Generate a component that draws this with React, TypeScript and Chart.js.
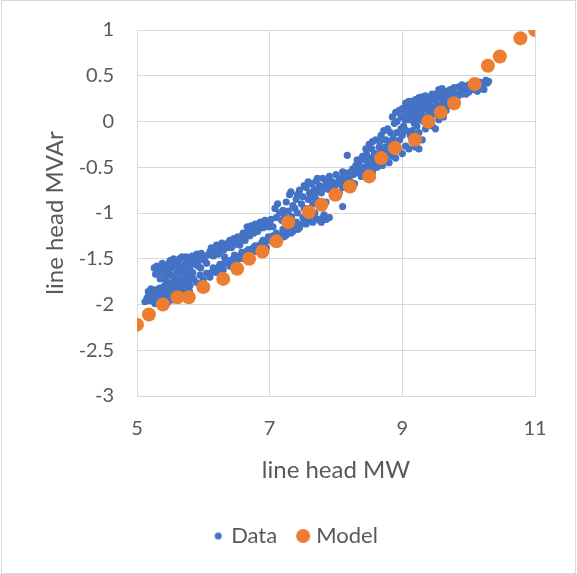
import { useEffect, useRef } from "react";
import { Chart, registerables } from "chart.js";

Chart.register(...registerables);

const BLUE = "#4472C4";
const ORANGE = "#ED7D31";
const TEXT = "#595959";
const GRID = "#D9D9D9";

const seriesNames = ["Data", "Model"];
const xTitle = "line head MW";
const yTitle = "line head MVAr";

const modelMW = [5, 5.18, 5.39, 5.61, 5.78, 6.0, 6.3, 6.51, 6.69, 6.89, 7.1, 7.28, 7.59, 7.78, 7.99, 8.21, 8.5, 8.68, 8.89, 9.19, 9.39, 9.58, 9.78, 10.09, 10.29, 10.47, 10.78, 11.0];
const modelMVAr = [-2.22, -2.11, -2.0, -1.92, -1.92, -1.81, -1.72, -1.61, -1.5, -1.42, -1.31, -1.1, -0.99, -0.91, -0.8, -0.71, -0.6, -0.4, -0.29, -0.2, 0.0, 0.1, 0.2, 0.41, 0.61, 0.71, 0.91, 1.0];

// Measured data: [MW, MVAr]
const dataPoints: [number, number][] = [
  [5.12, -1.97], [5.15, -1.93], [5.18, -1.9], [5.2, -1.96], [5.22, -1.88], [5.25, -1.92], [5.27, -1.99], [5.3, -1.87], [5.32, -1.94], [5.35, -1.9], [5.38, -1.97], [5.4, -1.86], [5.43, -1.92], [5.46, -1.98], [5.48, -1.84], [5.5, -1.9], [5.53, -1.95], [5.55, -1.83], [5.58, -1.88], [5.6, -1.8], [5.63, -1.86], [5.66, -1.78], [5.68, -1.84], [5.7, -1.76], [5.74, -1.82], [5.78, -1.74], [5.8, -1.79],
  [5.17, -1.86], [5.21, -1.83], [5.24, -1.95], [5.28, -1.84], [5.31, -1.91], [5.34, -1.82], [5.37, -1.88], [5.41, -1.8], [5.44, -1.95], [5.47, -1.78], [5.51, -1.86], [5.54, -1.76], [5.57, -1.93], [5.61, -1.74], [5.64, -1.9], [5.67, -1.72], [5.71, -1.87], [5.76, -1.68], [5.79, -1.85], [5.82, -1.7],
  [5.26, -1.6], [5.3, -1.58], [5.33, -1.65], [5.36, -1.6], [5.4, -1.57], [5.42, -1.7], [5.45, -1.62], [5.48, -1.55], [5.5, -1.67], [5.52, -1.6], [5.55, -1.5], [5.58, -1.72], [5.6, -1.58], [5.62, -1.53], [5.65, -1.65], [5.68, -1.48], [5.7, -1.6], [5.73, -1.55], [5.75, -1.7], [5.78, -1.5], [5.8, -1.62], [5.83, -1.47], [5.86, -1.56], [5.9, -1.45], [5.93, -1.52], [5.96, -1.6], [6.0, -1.48], [6.05, -1.55], [6.1, -1.42],
  [5.28, -1.67], [5.31, -1.62], [5.35, -1.72], [5.38, -1.55], [5.41, -1.64], [5.44, -1.74], [5.47, -1.58], [5.5, -1.52], [5.53, -1.69], [5.57, -1.55], [5.6, -1.65], [5.64, -1.5], [5.67, -1.58], [5.71, -1.66], [5.74, -1.48], [5.77, -1.58], [5.81, -1.52], [5.84, -1.65], [5.88, -1.5], [5.92, -1.58], [5.97, -1.44], [6.02, -1.52], [6.07, -1.46],
  [6.12, -1.38], [6.15, -1.47], [6.2, -1.35], [6.25, -1.42], [6.28, -1.33], [6.32, -1.48], [6.35, -1.38], [6.4, -1.3], [6.44, -1.36], [6.48, -1.32], [6.52, -1.26], [6.55, -1.35], [6.6, -1.22], [6.63, -1.3], [6.66, -1.15], [6.7, -1.25], [6.74, -1.18], [6.78, -1.12], [6.82, -1.2], [6.86, -1.1], [6.9, -1.16], [6.95, -1.12], [7.0, -1.1], [7.05, -1.15],
  [6.14, -1.42], [6.18, -1.4], [6.22, -1.45], [6.27, -1.37], [6.31, -1.4], [6.37, -1.33], [6.42, -1.38], [6.46, -1.28], [6.5, -1.34], [6.57, -1.28], [6.62, -1.26], [6.68, -1.2], [6.72, -1.14], [6.76, -1.22], [6.8, -1.15], [6.88, -1.13], [6.93, -1.08], [6.98, -1.15], [7.02, -1.07],
  [5.85, -1.72], [5.9, -1.76], [5.95, -1.68], [6.0, -1.73], [6.05, -1.66], [6.1, -1.7], [6.15, -1.6], [6.2, -1.65], [6.25, -1.56], [6.3, -1.62], [6.35, -1.55], [6.4, -1.58], [6.45, -1.5], [6.5, -1.54], [6.55, -1.47], [6.6, -1.5], [6.65, -1.42], [6.7, -1.46], [6.75, -1.38], [6.8, -1.42], [6.85, -1.35], [6.9, -1.3], [6.95, -1.38], [7.0, -1.3],
  [6.12, -1.65], [6.17, -1.62], [6.22, -1.6], [6.28, -1.58], [6.33, -1.52], [6.38, -1.52], [6.43, -1.55], [6.47, -1.46], [6.53, -1.5], [6.58, -1.43], [6.63, -1.46], [6.68, -1.4], [6.73, -1.42], [6.78, -1.36], [6.83, -1.38], [6.88, -1.33], [6.93, -1.32], [6.98, -1.26], [7.03, -1.28],
  [7.08, -0.95], [7.12, -0.9], [7.15, -1.0], [7.2, -0.97], [7.25, -0.88], [7.3, -0.8], [7.32, -0.77], [7.35, -0.92], [7.4, -0.85], [7.45, -0.75], [7.5, -0.82], [7.55, -0.72], [7.6, -0.78], [7.63, -0.68], [7.67, -0.74], [7.7, -0.65], [7.75, -0.7], [7.8, -0.62], [7.85, -0.67], [7.9, -0.6], [7.95, -0.66], [8.0, -0.58], [8.05, -0.62], [8.1, -0.55],
  [7.1, -1.05], [7.18, -1.08], [7.22, -1.02], [7.28, -0.98], [7.33, -1.04], [7.38, -0.95], [7.42, -1.0], [7.48, -0.9], [7.52, -0.95], [7.58, -0.85], [7.62, -0.82], [7.68, -0.8], [7.72, -0.76], [7.78, -0.78], [7.82, -0.72], [7.88, -0.74], [7.92, -0.7], [7.98, -0.72], [8.02, -0.68], [8.08, -0.66], [7.42, -0.8], [7.52, -0.7], [7.58, -0.66], [7.72, -0.62], [7.88, -0.64],
  [7.05, -1.25], [7.1, -1.22], [7.15, -1.28], [7.2, -1.18], [7.25, -1.24], [7.3, -1.15], [7.35, -1.2], [7.4, -1.1], [7.45, -1.16], [7.5, -1.05], [7.55, -1.12], [7.6, -1.08], [7.65, -1.1], [7.7, -1.06], [7.75, -1.08], [7.8, -1.05], [7.85, -1.07], [7.9, -1.05], [7.6, -0.95], [7.65, -0.9], [7.7, -0.85], [7.75, -0.92], [7.85, -0.88], [7.95, -0.82], [8.1, -0.93],
  [7.12, -1.3], [7.18, -1.24], [7.22, -1.26], [7.28, -1.2], [7.32, -1.22], [7.38, -1.15], [7.42, -1.18], [7.48, -1.12], [7.52, -1.1], [7.58, -1.04], [7.68, -1.0], [7.78, -1.1], [7.82, -1.02],
  [8.05, -0.78], [8.1, -0.72], [8.15, -0.65], [8.17, -0.37], [8.2, -0.6], [8.25, -0.52], [8.28, -0.68], [8.3, -0.48], [8.33, -0.56], [8.35, -0.44], [8.38, -0.6], [8.4, -0.38], [8.42, -0.5], [8.45, -0.3], [8.48, -0.45], [8.5, -0.25], [8.52, -0.4], [8.55, -0.22], [8.58, -0.35], [8.6, -0.2], [8.62, -0.5], [8.65, -0.28], [8.68, -0.15], [8.7, -0.3], [8.72, -0.1], [8.75, -0.2], [8.78, -0.08], [8.8, -0.35], [8.82, -0.12],
  [8.12, -0.6], [8.18, -0.56], [8.22, -0.66], [8.26, -0.58], [8.3, -0.55], [8.32, -0.42], [8.36, -0.5], [8.4, -0.55], [8.44, -0.42], [8.46, -0.36], [8.5, -0.5], [8.54, -0.3], [8.56, -0.45], [8.6, -0.4], [8.64, -0.35], [8.66, -0.22], [8.7, -0.38], [8.74, -0.28], [8.76, -0.35], [8.8, -0.22], [8.84, -0.3], [8.86, -0.18], [8.9, -0.25], [8.92, -0.12], [8.96, -0.2], [8.98, -0.08],
  [8.55, -0.55], [8.6, -0.5], [8.65, -0.46], [8.7, -0.48], [8.75, -0.42], [8.8, -0.45], [8.85, -0.38], [8.9, -0.4], [8.95, -0.32], [9.0, -0.35], [9.05, -0.27], [9.1, -0.3], [9.15, -0.22], [9.2, -0.28], [9.25, -0.3], [9.3, -0.2],
  [8.85, 0.05], [8.88, -0.02], [8.9, 0.1], [8.92, 0.0], [8.95, 0.12], [8.98, 0.05], [9.0, 0.14], [9.02, -0.05], [9.05, 0.1], [9.08, 0.16], [9.1, 0.02], [9.12, 0.12], [9.15, 0.18], [9.18, 0.06], [9.2, 0.15], [9.22, -0.05], [9.25, 0.2], [9.28, 0.1], [9.3, 0.18], [9.32, 0.0], [9.35, 0.22], [9.38, 0.12], [9.4, 0.2], [9.42, 0.05], [9.45, 0.25], [9.48, 0.15], [9.5, 0.22], [9.52, 0.08], [9.55, 0.27], [9.58, 0.18], [9.6, 0.25], [9.15, -0.1], [9.25, -0.12], [9.35, -0.08], [9.45, -0.05], [9.5, -0.08], [9.55, 0.02],
  [9.0, -0.15], [9.04, 0.02], [9.06, -0.1], [9.1, 0.08], [9.12, -0.15], [9.14, 0.04], [9.18, -0.02], [9.2, 0.08], [9.24, 0.02], [9.26, 0.14], [9.3, 0.06], [9.33, 0.15], [9.36, 0.04], [9.4, 0.1], [9.42, 0.25], [9.44, 0.16], [9.47, 0.08], [9.5, 0.3], [9.52, 0.18], [9.56, 0.12], [9.58, 0.28], [9.6, 0.15], [9.62, 0.05], [9.64, 0.27], [9.66, 0.12], [9.7, 0.18],
  [9.05, 0.2], [9.1, 0.22], [9.2, 0.24], [9.3, 0.27], [9.15, 0.22], [9.25, 0.26], [9.35, 0.28], [9.45, 0.3], [9.55, 0.35], [9.6, 0.36],
  [9.62, 0.3], [9.65, 0.2], [9.68, 0.33], [9.7, 0.25], [9.72, 0.35], [9.75, 0.28], [9.78, 0.37], [9.8, 0.3], [9.82, 0.22], [9.85, 0.38], [9.88, 0.32], [9.9, 0.4], [9.93, 0.35], [9.96, 0.3], [10.0, 0.4], [10.03, 0.36], [10.06, 0.42], [10.1, 0.38], [10.13, 0.33], [10.16, 0.43], [10.2, 0.4], [10.23, 0.35], [10.26, 0.45], [10.28, 0.42],
  [9.74, 0.2], [9.78, 0.25], [9.84, 0.28], [9.9, 0.3], [9.95, 0.38], [10.0, 0.32], [10.05, 0.35], [10.12, 0.4], [10.18, 0.37], [10.22, 0.42], [10.3, 0.44],
];

const X_MIN = 5;
const X_MAX = 11;
const X_STEP = 2;
const Y_MIN = -3;
const Y_MAX = 1;
const Y_STEP = 0.5;

function dotCanvas(r: number, color: string): HTMLCanvasElement {
  const size = Math.ceil(r * 2) + 2;
  const c = document.createElement("canvas");
  c.width = size;
  c.height = size;
  const g = c.getContext("2d");
  if (g) {
    g.fillStyle = color;
    g.beginPath();
    g.arc(size / 2, size / 2, r, 0, Math.PI * 2);
    g.fill();
  }
  return c;
}

export default function App() {
  const ref = useRef<HTMLCanvasElement | null>(null);

  useEffect(() => {
    if (!ref.current) return;
    Chart.defaults.font.family = "Lato, 'Open Sans', sans-serif";
    const legendDots = [dotCanvas(3.5, BLUE), dotCanvas(7, ORANGE)];
    const chart = new Chart(ref.current, {
      type: "scatter",
      data: {
        datasets: [
          {
            label: seriesNames[0],
            data: dataPoints.map(([x, y]) => ({ x, y })),
            backgroundColor: BLUE,
            borderWidth: 0,
            pointRadius: 3.6,
            pointHoverRadius: 3.6,
            order: 1,
          },
          {
            label: seriesNames[1],
            data: modelMW.map((x, i) => ({ x, y: modelMVAr[i] })),
            backgroundColor: ORANGE,
            borderWidth: 0,
            pointRadius: 7,
            pointHoverRadius: 7,
            order: 0,
          },
        ],
      },
      options: {
        animation: false,
        responsive: false,
        events: [],
        layout: { padding: { left: 59, right: 42, top: 30, bottom: 17 } },
        plugins: {
          tooltip: { enabled: false },
          legend: {
            position: "bottom",
            labels: {
              usePointStyle: true,
              boxWidth: 4,
              padding: 24,
              color: TEXT,
              font: { size: 22 },
              generateLabels: (c: any) =>
                c.data.datasets.map((ds: any, i: number) => ({
                  text: ds.label,
                  fillStyle: ds.backgroundColor,
                  strokeStyle: ds.backgroundColor,
                  lineWidth: 0,
                  pointStyle: legendDots[i],
                  hidden: false,
                  datasetIndex: i,
                  fontColor: TEXT,
                })),
            },
          },
        },
        scales: {
          x: {
            type: "linear",
            min: X_MIN,
            max: X_MAX,
            ticks: { stepSize: X_STEP, padding: 21, color: TEXT, font: { size: 20 } },
            grid: { color: GRID, drawTicks: false, lineWidth: 1 },
            border: { color: GRID },
            title: { display: true, text: xTitle, color: TEXT, font: { size: 24 }, padding: { top: 0, bottom: 16.6 } },
            afterFit: (s: any) => {
              s.height = 105;
            },
          },
          y: {
            type: "linear",
            min: Y_MIN,
            max: Y_MAX,
            ticks: {
              stepSize: Y_STEP,
              padding: 23,
              color: TEXT,
              font: { size: 20, lineHeight: 0.6 },
              callback: (v: any) => String(Math.round(Number(v) * 10) / 10),
            },
            grid: { color: GRID, drawTicks: false, lineWidth: 1 },
            border: { color: GRID },
            title: { display: true, text: yTitle, color: TEXT, font: { size: 24 }, padding: { top: -18.4, bottom: 0 } },
            afterFit: (s: any) => {
              s.width = 78;
            },
          },
        },
      } as any,
    });
    return () => chart.destroy();
  }, []);

  return (
    <div style={{ position: "absolute", left: 0, top: 0, width: 577, height: 574, background: "#fff" }}>
      <div
        style={{
          position: "absolute",
          left: 1,
          top: 0,
          width: 575,
          height: 574,
          boxSizing: "border-box",
          border: `1px solid ${GRID}`,
        }}
      />
      <canvas ref={ref} width={577} height={574} style={{ position: "absolute", left: 0, top: 0, width: 577, height: 574 }} />
    </div>
  );
}
